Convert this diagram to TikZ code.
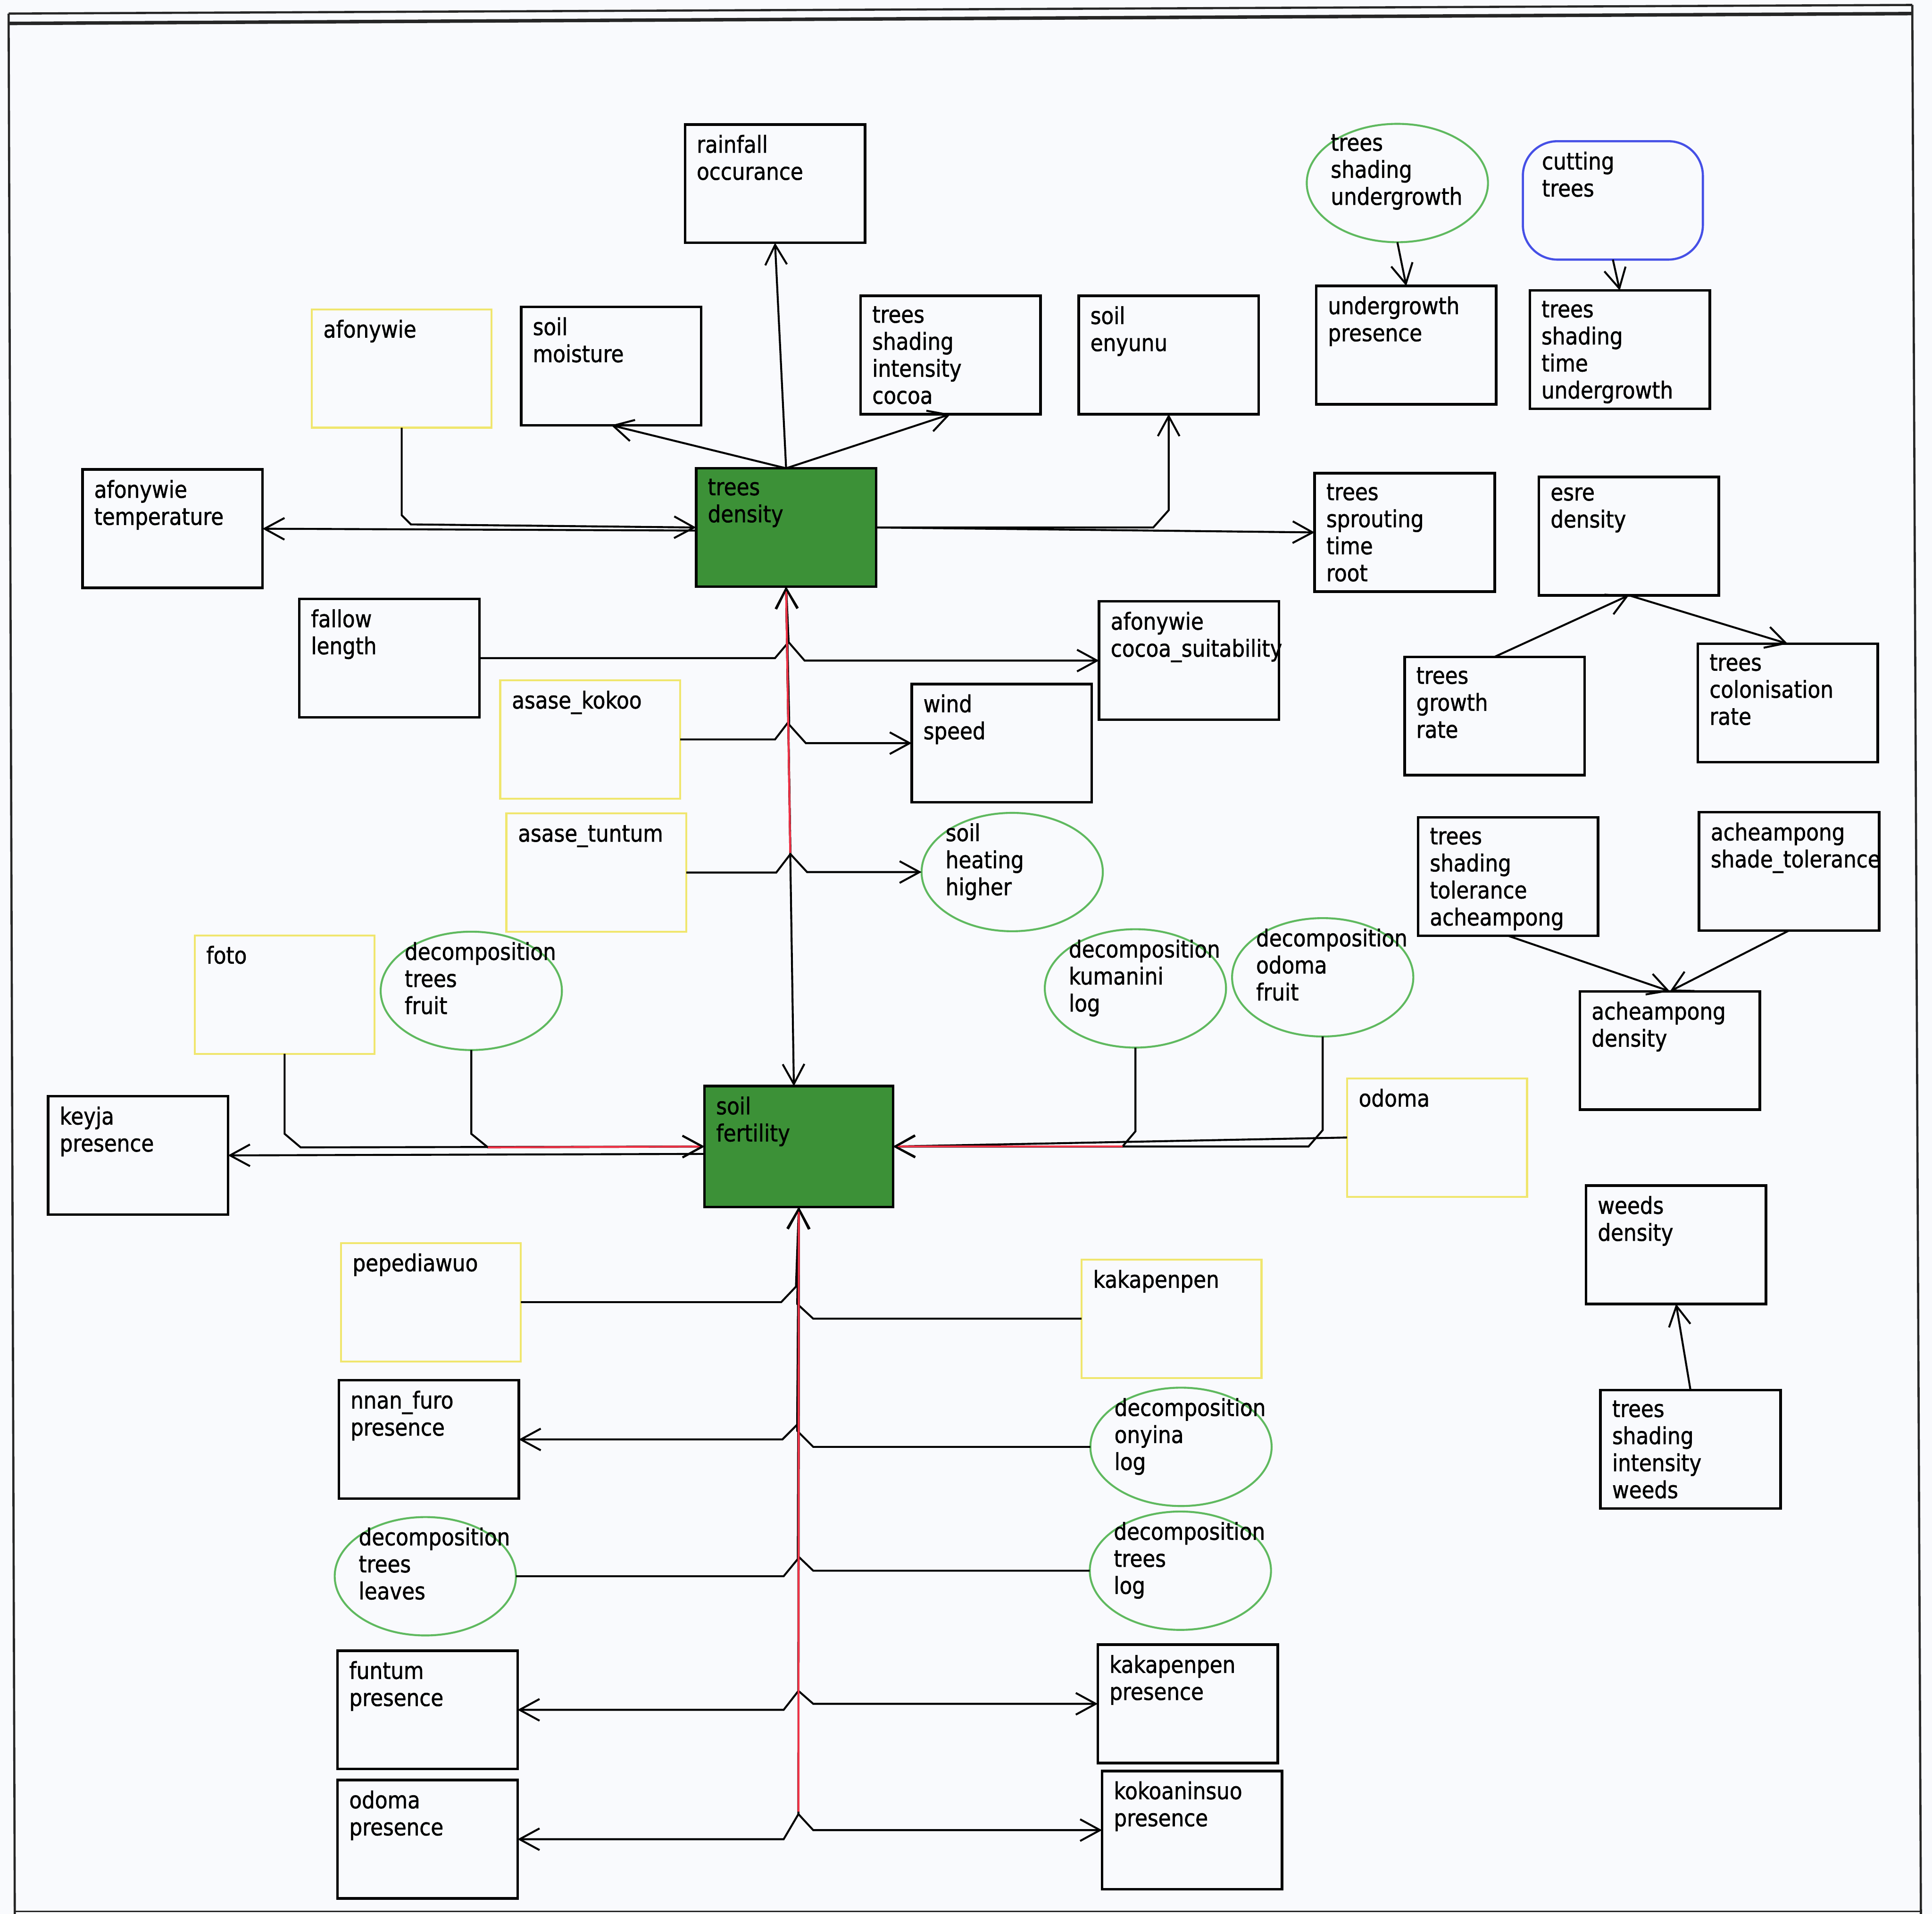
\documentclass[tikz,border=0pt]{standalone}
\usepackage{fontspec}
\newfontfamily\nodefont{DejaVu Sans}[FakeStretch=0.88, FakeBold=1.2]
\usetikzlibrary{shapes.geometric, arrows.meta, calc}

\definecolor{paper}{RGB}{249,250,253}
\definecolor{stockgreen}{RGB}{60,145,55}
\definecolor{auxgreen}{RGB}{95,185,95}
\definecolor{inyellow}{RGB}{240,230,110}
\definecolor{actblue}{RGB}{70,80,230}
\definecolor{hilite}{RGB}{240,50,70}

\tikzset{
  lbl/.style={font=\nodefont\fontsize{5.4pt}{6.24pt}\selectfont, align=left,
    inner sep=0pt, outer sep=0pt, anchor=north west, text=black,
    execute at begin node={\vphantom{d}}},
  box/.style={rectangle, draw=black, line width=0.6pt, inner sep=0pt, outer sep=0pt,
    minimum width=1.46cm, minimum height=0.96cm,
    label={[lbl, xshift=0.095cm, yshift=-0.085cm]north west:{#1}}},
  stock/.style={box={#1}, fill=stockgreen},
  inbox/.style={box={#1}, draw=inyellow, line width=0.45pt},
  process/.style={ellipse, draw=auxgreen, line width=0.45pt, inner sep=0pt, outer sep=0pt,
    minimum width=1.47cm, minimum height=0.96cm,
    label={[lbl, xshift=0.195cm, yshift=0.395cm]west:{#1}}},
  action/.style={rectangle, rounded corners=0.28cm, draw=actblue, line width=0.5pt,
    inner sep=0pt, outer sep=0pt, minimum width=1.46cm, minimum height=0.96cm,
    label={[lbl, xshift=0.155cm, yshift=-0.085cm]north west:{#1}}},
  conn/.style={draw=black, line width=0.45pt, -{Straight Barb[length=4.6pt,width=5pt]}},
  hot/.style={draw=hilite, line width=0.45pt, -{Straight Barb[length=4.6pt,width=5pt,color=black]}},
  frame/.style={draw=black!85, line width=0.5pt},
}

\begin{document}
\begin{tikzpicture}[x=0.01cm, y=-0.01cm]
  \fill[paper] (0,0) rectangle (1568,1553);
  \useasboundingbox (0,0) rectangle (1568,1553);

  % window frame
  \draw[frame] (7,11) -- (1552,4);
  \draw[frame, line width=0.8pt] (7,19) -- (1552,11);
  \draw[frame] (7,11) -- (12,1553);
  \draw[frame] (1552,4) -- (1559,1553);
  \draw[frame, line width=0.3pt] (12,1551) -- (1559,1551);

  % upper part
  \node[box={rainfall\\occurance}] (rain) at (629,149) {};
  \node[inbox={afonywie}] (afony) at (326,299) {};
  \node[box={soil\\moisture}] (smoist) at (496,297) {};
  \node[box={trees\\shading\\intensity\\cocoa}] (tsic) at (771.5,288) {};
  \node[box={soil\\enyunu}] (senyunu) at (948.5,288) {};
  \node[process={trees\\shading\\undergrowth}] (tsu) at (1134.1,148.5) {};
  \node[action={cutting\\trees}] (cut) at (1309,162.6) {};
  \node[box={undergrowth\\presence}] (ugp) at (1141.3,280) {};
  \node[box={trees\\shading\\time\\undergrowth}] (tstu) at (1314.6,283.7) {};
  \node[box={afonywie\\temperature}] (aftemp) at (140,429) {};
  \node[stock={trees\\density}] (tdens) at (638,428) {};
  \node[box={trees\\sprouting\\time\\root}] (tstr) at (1140,432) {};
  \node[box={esre\\density}] (esre) at (1322,435) {};
  \node[box={fallow\\length}] (fallow) at (316,534) {};
  \node[inbox={asase\_kokoo}] (kokoo) at (479,600) {};
  \node[inbox={asase\_tuntum}] (tuntum) at (484,708) {};
  \node[box={afonywie\\cocoa\_suitability}] (suit) at (965,536) {};
  \node[box={wind\\speed}] (wind) at (813,603) {};
  \node[process={soil\\heating\\higher}] (heat) at (821.5,707.6) {};
  \node[box={trees\\growth\\rate}] (tgr) at (1213,581) {};
  \node[box={trees\\colonisation\\rate}] (tcol) at (1451,570.4) {};
  \node[box={trees\\shading\\tolerance\\acheampong}] (tsta) at (1224,711.3) {};
  \node[box={acheampong\\shade\_tolerance}] (ashade) at (1452,707) {};

  % middle part
  \node[inbox={foto}] (foto) at (231,807) {};
  \node[process={decomposition\\trees\\fruit}] (dtf) at (382.5,804) {};
  \node[process={decomposition\\kumanini\\log}] (dkl) at (921.5,802) {};
  \node[process={decomposition\\odoma\\fruit}] (dof) at (1073.5,793) {};
  \node[box={acheampong\\density}] (adens) at (1355.3,852.4) {};
  \node[box={keyja\\presence}] (keyja) at (112,937.5) {};
  \node[stock={soil\\fertility}, minimum width=1.53cm, minimum height=0.98cm] (sfert) at (648.3,930.3) {};
  \node[inbox={odoma}] (odoma) at (1166.3,923) {};
  \node[box={weeds\\density}] (weeds) at (1360.3,1010) {};

  % lower part
  \node[inbox={pepediawuo}] (pepe) at (349.7,1056.6) {};
  \node[inbox={kakapenpen}] (kakap) at (950.8,1070) {};
  \node[box={trees\\shading\\intensity\\weeds}] (tsiw) at (1372,1176) {};
  \node[box={nnan\_furo\\presence}] (nnan) at (348,1168) {};
  \node[process={decomposition\\onyina\\log}] (donyina) at (958.5,1174) {};
  \node[process={decomposition\\trees\\leaves}] (dtleaves) at (345.2,1279) {};
  \node[process={decomposition\\trees\\log}] (dtlog) at (958,1274.5) {};
  \node[box={funtum\\presence}] (funtum) at (347,1387.4) {};
  \node[box={kakapenpen\\presence}] (kpres) at (964,1382.5) {};
  \node[box={odoma\\presence}] (opres) at (347,1492.4) {};
  \node[box={kokoaninsuo\\presence}] (kokoa) at (967.5,1485) {};

  % links around trees density
  \draw[conn] (tdens.north) -- (rain.south);
  \draw[conn] (tdens.north) -- (smoist.south);
  \draw[conn] (tdens.north) -- (tsic.south);
  \draw[conn] (tdens.east) -- (936,428) -- (948.5,414) -- (senyunu.south);
  \draw[conn] (tdens.east) -- (tstr.west);
  \draw[conn] (afony.south) -- (326,418) -- (333.5,425.5) -- (tdens.west);
  \draw[conn] ($(tdens.west)+(0,2.5)$) -- (aftemp.east);
  \draw[conn] (fallow.east) -- (629,534) -- (640,521) -- (tdens.south);
  \draw[conn] (tdens.south) -- (640,521) -- (653,536) -- (suit.west);
  \draw[conn] (kokoo.east) -- (629,600) -- (640.5,585) -- (tdens.south);
  \draw[conn] (tdens.south) -- (640.5,588) -- (654,603) -- (wind.west);
  \draw[conn] (tuntum.east) -- (630,708) -- (641.5,693) -- (tdens.south);
  \draw[conn] (tdens.south) -- (641.5,693) -- (655,707.6) -- (heat.west);
  \draw[conn] (tdens.south) -- ($(sfert.north)+(-4,0)$);

  % right column
  \draw[conn] (tsu.south) -- (ugp.north);
  \draw[conn] (cut.south) -- (tstu.north);
  \draw[conn] (tgr.north) -- (esre.south);
  \draw[conn] (esre.south) -- (tcol.north);
  \draw[conn] (tsta.south) -- (adens.north);
  \draw[conn] (ashade.south) -- (adens.north);
  \draw[conn] (tsiw.north) -- (weeds.south);

  % links into and out of soil fertility, sides
  \draw[conn] (foto.south) -- (231,920) -- (244,931) -- (sfert.west);
  \draw[conn] (dtf.south) -- (382.5,920) -- (396,931) -- (sfert.west);
  \draw[conn] ($(sfert.west)+(0,6)$) -- (keyja.east);
  \draw[conn] (dkl.south) -- (921.5,918) -- (911,930.3) -- (sfert.east);
  \draw[conn] (dof.south) -- (1073.5,917) -- (1062,930.3) -- (sfert.east);
  \draw[conn] (odoma.west) -- (sfert.east);

  % links along the lower bus
  \draw[conn] (pepe.east) -- (634,1056.6) -- (646,1044) -- (sfert.south);
  \draw[conn] (kakap.west) -- (660,1070) -- (647,1058) -- (sfert.south);
  \draw[conn] (sfert.south) -- (647,1156) -- (635,1168) -- (nnan.east);
  \draw[conn] (donyina.west) -- (660,1174) -- (647,1161) -- (sfert.south);
  \draw[conn] (dtleaves.east) -- (636,1279) -- (647.5,1265) -- (sfert.south);
  \draw[conn] (dtlog.west) -- (660,1274.5) -- (648,1263) -- (sfert.south);
  \draw[conn] (sfert.south) -- (648,1372) -- (636,1387.4) -- (funtum.east);
  \draw[conn] (sfert.south) -- (648,1372) -- (660,1382.5) -- (kpres.west);
  \draw[conn] (sfert.south) -- (648,1472) -- (636,1492.4) -- (opres.east);
  \draw[conn] (sfert.south) -- (648,1472) -- (660,1485) -- (kokoa.west);

  % highlighted links of soil fertility
  \coordinate (fruitbend) at (396,931);
  \coordinate (logbend) at (911,930.3);
  \coordinate (busfoot) at (648,1470);
  \draw[hot, shorten <=1.89cm] ($(sfert.north)+(-4,0)$) -- (tdens.south);
  \draw[hot] (fruitbend) -- (sfert.west);
  \draw[hot] (logbend) -- (sfert.east);
  \draw[hot] (busfoot) -- (sfert.south);
\end{tikzpicture}
\end{document}
